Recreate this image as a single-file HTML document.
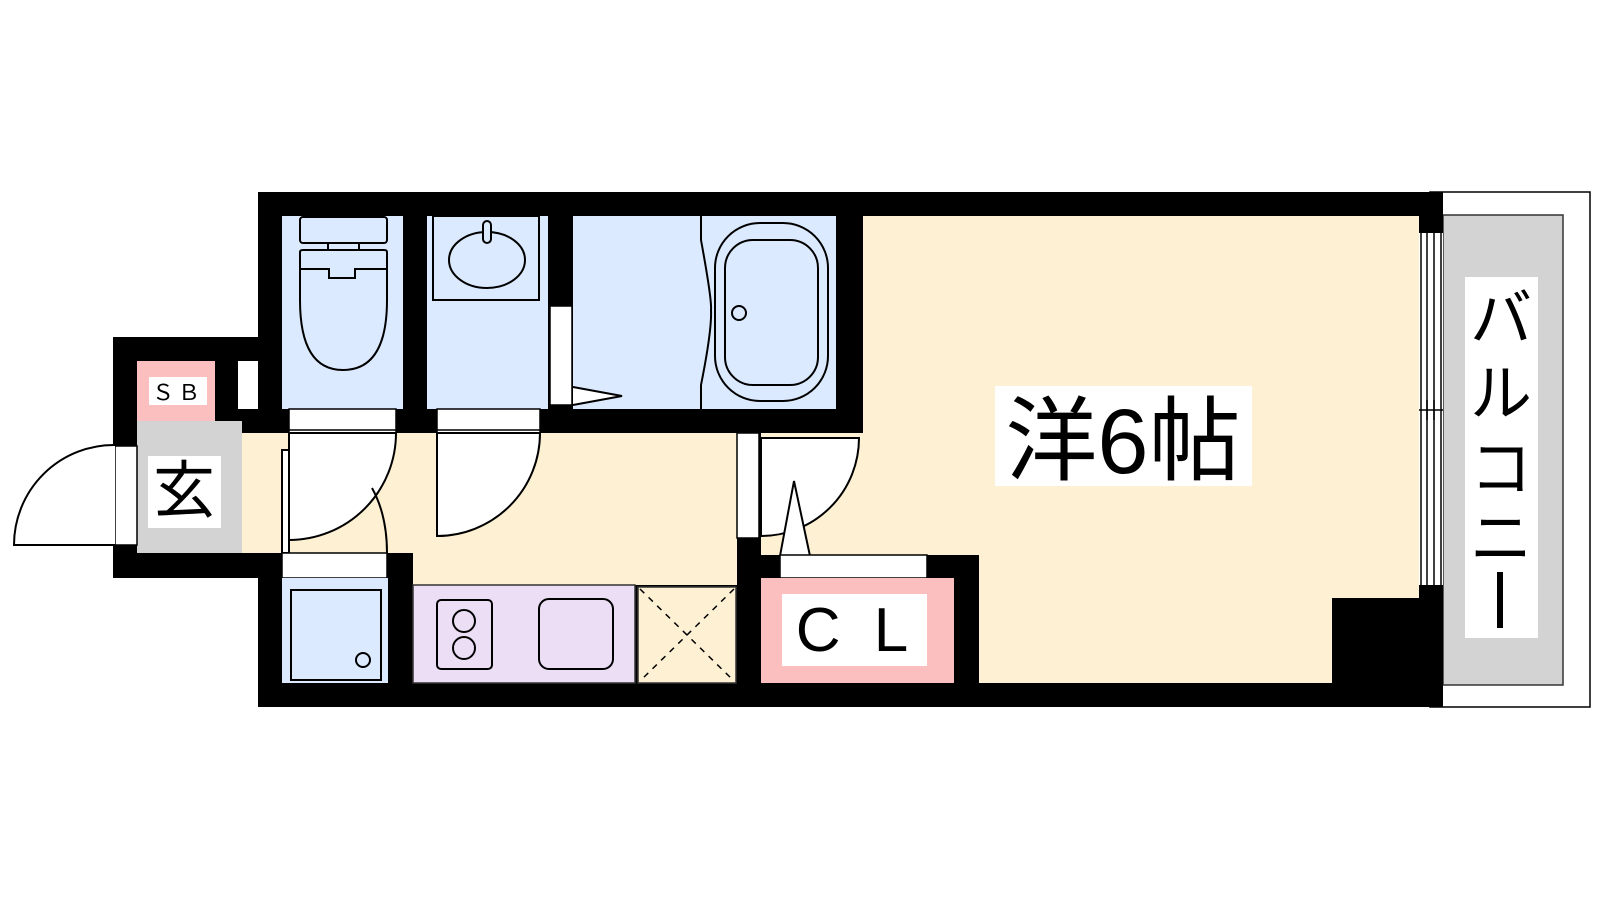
<!DOCTYPE html>
<html><head><meta charset="utf-8"><style>
html,body{margin:0;padding:0;background:#fff;width:1600px;height:900px;overflow:hidden}
svg{display:block}
text{font-family:"Liberation Sans","Noto Sans CJK JP",sans-serif}
</style></head><body>
<svg width="1600" height="900" viewBox="0 0 1600 900" xmlns="http://www.w3.org/2000/svg">
<!-- balcony -->
<rect x="1430" y="192" width="160" height="515" fill="#fff" stroke="#000" stroke-width="1.5"/>
<rect x="1443" y="215" width="120" height="470" fill="#d3d3d3" stroke="#333" stroke-width="1.5"/>
<rect x="1465" y="277" width="73" height="361" fill="#fff"/>
<text x="1501" y="340" font-size="62" text-anchor="middle">バ</text>
<text x="1501" y="415" font-size="62" text-anchor="middle">ル</text>
<text x="1501" y="490" font-size="62" text-anchor="middle">コ</text>
<text x="1501" y="560" font-size="62" text-anchor="middle">ニ</text>
<rect x="1497" y="572" width="6" height="56" fill="#000"/>

<!-- main black structure -->
<rect x="258" y="192" width="1185" height="515" fill="#000"/>
<rect x="113" y="337" width="170" height="241" fill="#000"/>

<!-- main room -->
<rect x="863" y="216" width="556" height="467" fill="#fdf0d3"/>
<rect x="761" y="433" width="110" height="122" fill="#fdf0d3"/>
<rect x="1332" y="598" width="90" height="90" fill="#000"/>
<!-- hall -->
<rect x="242" y="433" width="495" height="120" fill="#fdf0d3"/>
<rect x="413" y="553" width="324" height="32" fill="#fdf0d3"/>

<!-- window -->
<rect x="1419" y="233" width="24" height="352" fill="#fff"/>
<g stroke="#000" stroke-width="1.5" fill="none">
<line x1="1421" y1="233" x2="1421" y2="585"/><line x1="1427" y1="233" x2="1427" y2="585"/>
<line x1="1434" y1="233" x2="1434" y2="585"/><line x1="1441" y1="233" x2="1441" y2="585"/>
<line x1="1419" y1="410" x2="1443" y2="410"/>
<line x1="1427" y1="400" x2="1427" y2="420"/><line x1="1434" y1="400" x2="1434" y2="420"/>
</g>

<!-- toilet -->
<rect x="282" y="216" width="121" height="193" fill="#dbeafe"/>
<g stroke="#000" stroke-width="2" fill="none">
<rect x="300" y="217" width="87" height="26" rx="3"/>
<rect x="328" y="243" width="31" height="7"/>
<path d="M300 252 V300 Q300 370 343 370 Q387 370 387 300 V252 Q387 250 384 250 H303 Q300 250 300 252 Z"/>
<path d="M300 269 H329 V278 H355 V269 H387"/>
</g>
<!-- wash -->
<rect x="427" y="216" width="121" height="193" fill="#dbeafe"/>
<g stroke="#000" stroke-width="2" fill="none">
<rect x="433" y="216" width="106" height="84"/>
<ellipse cx="487" cy="260" rx="38" ry="28"/>
<rect x="483" y="221" width="8" height="22" rx="4" fill="#dbeafe"/>
</g>
<!-- bath door -->
<rect x="550" y="306" width="22" height="99" fill="#fff" stroke="#000" stroke-width="1.5"/>
<!-- bath -->
<rect x="573" y="216" width="263" height="193" fill="#dbeafe"/>
<g stroke="#000" stroke-width="2" fill="none">
<path d="M701 216 V240 Q712 300 711 310 Q712 330 701 385 V409"/>
<rect x="715" y="223" width="113" height="178" rx="45"/>
<rect x="725" y="240" width="93" height="145" rx="28"/>
<circle cx="739" cy="313" r="7"/>
<path d="M573 387 L622 396 L573 405" fill="#fff"/>
</g>

<!-- door rails top -->
<g stroke="#000" stroke-width="1.5">
<rect x="289" y="409" width="107" height="24" fill="#fff"/>
<rect x="437" y="409" width="103" height="24" fill="#fff"/>
<line x1="289" y1="430" x2="396" y2="430"/><line x1="437" y1="430" x2="540" y2="430"/>
</g>
<!-- swing doors -->
<g stroke="#000" stroke-width="2" fill="#fff">
<path d="M289 433 H396 A107 107 0 0 1 289 540 Z"/>
<path d="M437 433 H540 A103 103 0 0 1 437 536 Z"/>
<path d="M372 488 Q387 515 387 553" fill="none"/>
<rect x="282" y="450" width="7" height="103"/>
</g>

<!-- entrance -->
<rect x="137" y="361" width="78" height="60" fill="#fbbfbf"/>
<rect x="149" y="377" width="58" height="28" fill="#fff"/>
<text x="178" y="400" font-size="22" text-anchor="middle" letter-spacing="4">ＳＢ</text>
<rect x="238" y="361" width="20" height="48" fill="#fff"/>
<rect x="137" y="421" width="105" height="132" fill="#d3d3d3"/>
<rect x="148" y="456" width="73" height="72" fill="#fff"/>
<text x="184" y="512" font-size="62" text-anchor="middle">玄</text>
<rect x="115" y="446" width="22" height="99" fill="#fff" stroke="#000" stroke-width="1.5"/>
<path d="M115 445 A100 100 0 0 0 14 545 H115" fill="#fff" stroke="#000" stroke-width="2"/>

<!-- laundry -->
<rect x="282" y="553" width="105" height="25" fill="#fff" stroke="#000" stroke-width="1.5"/>
<rect x="282" y="578" width="106" height="105" fill="#dbeafe"/>
<g stroke="#000" stroke-width="2" fill="none">
<rect x="291" y="590" width="90" height="90"/>
<circle cx="363" cy="660" r="7"/>
</g>
<rect x="388" y="553" width="25" height="132" fill="#000"/>

<!-- kitchen -->
<rect x="413" y="585" width="222" height="98" fill="#ecdff5" stroke="#333" stroke-width="1.5"/>
<g stroke="#000" stroke-width="2" fill="none">
<rect x="437" y="600" width="55" height="69" rx="4"/>
<circle cx="464" cy="621" r="11"/><circle cx="464" cy="648" r="11"/>
<rect x="539" y="599" width="74" height="70" rx="10"/>
</g>
<rect x="638" y="587" width="98" height="96" fill="#fdf0d3" stroke="#333" stroke-width="1.5"/>
<g stroke="#000" stroke-width="1.5" stroke-dasharray="6,6">
<line x1="640" y1="589" x2="734" y2="681"/><line x1="734" y1="589" x2="640" y2="681"/>
</g>

<!-- CL -->
<rect x="737" y="433" width="22" height="105" fill="#fff" stroke="#000" stroke-width="1.5"/>
<path d="M761 438 H859 A98 98 0 0 1 761 536 Z" fill="#fff" stroke="#000" stroke-width="2"/>
<path d="M780 556 L794 481 L810 556" fill="#fff" stroke="#000" stroke-width="2"/>
<rect x="761" y="555" width="19" height="23" fill="#000"/>
<rect x="780" y="555" width="147" height="23" fill="#fff" stroke="#000" stroke-width="1.5"/>
<rect x="927" y="555" width="52" height="130" fill="#000"/>
<rect x="761" y="578" width="193" height="105" fill="#fbbfbf"/>
<rect x="782" y="594" width="145" height="72" fill="#fff"/>
<text x="856" y="651" font-size="62" text-anchor="middle" letter-spacing="8">C L</text>

<!-- room label -->
<rect x="995" y="386" width="257" height="100" fill="#fff"/>
<text x="1123" y="473" font-size="92" text-anchor="middle">洋6帖</text>
</svg>
</body></html>
